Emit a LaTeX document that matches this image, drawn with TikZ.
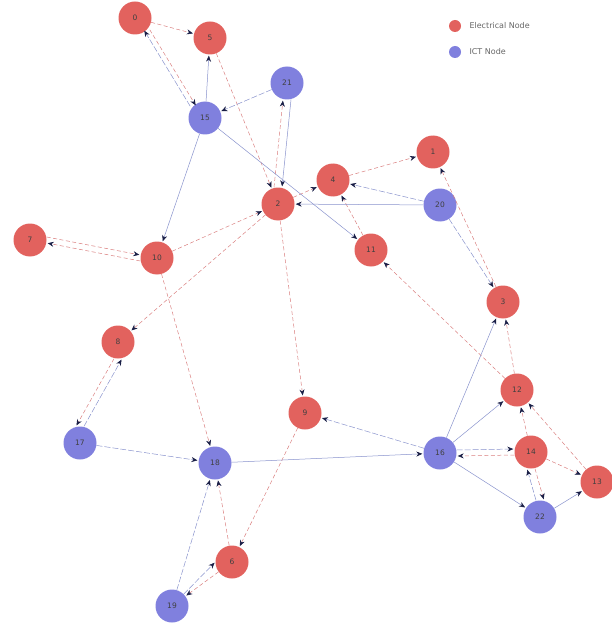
\documentclass[tikz,border=0pt]{standalone}
\usepackage{fontspec}
\setmainfont{DejaVu Sans}
\usetikzlibrary{arrows.meta}
\definecolor{elecfill}{RGB}{226,98,94}
\definecolor{ictfill}{RGB}{128,128,222}
\definecolor{eleclink}{RGB}{218,128,128}
\definecolor{ictlink}{RGB}{136,146,204}
\definecolor{tipcol}{RGB}{25,30,70}
\tikzset{
  x=1pt, y=-1pt,
  basenode/.style={circle, minimum size=33pt, inner sep=0pt, font=\fontsize{7.5}{8}\selectfont, text=black!75},
  elec/.style={basenode, fill=elecfill},
  ict/.style={basenode, fill=ictfill},
  link/.style={line width=0.5pt, shorten >=1pt, -{Stealth[length=6pt,width=5pt,color=tipcol]}},
  elink/.style={link, draw=eleclink, dash pattern=on 4pt off 2.5pt},
  ilink/.style={link, draw=ictlink, dash pattern=on 6pt off 2pt},
  slink/.style={link, draw=ictlink},
  legtext/.style={anchor=west, font=\fontsize{8}{9}\selectfont, text=black!60},
}
\begin{document}
\begin{tikzpicture}
\useasboundingbox (0,0) rectangle (612,631);
% electrical nodes
\node[elec] (n0)  at (135,18)  {0};
\node[elec] (n1)  at (433,152) {1};
\node[elec] (n2)  at (278,204) {2};
\node[elec] (n3)  at (503,302) {3};
\node[elec] (n4)  at (333,180) {4};
\node[elec] (n5)  at (210,38)  {5};
\node[elec] (n6)  at (232,562) {6};
\node[elec] (n7)  at (30,240)  {7};
\node[elec] (n8)  at (118,342) {8};
\node[elec] (n9)  at (305,413) {9};
\node[elec] (n10) at (157,258) {10};
\node[elec] (n11) at (371,250) {11};
\node[elec] (n12) at (517,390) {12};
\node[elec] (n13) at (597,482) {13};
\node[elec] (n14) at (531,452) {14};
% ICT nodes
\node[ict] (n15) at (205,118) {15};
\node[ict] (n16) at (440,453) {16};
\node[ict] (n17) at (80,443)  {17};
\node[ict] (n18) at (215,463) {18};
\node[ict] (n19) at (172,606) {19};
\node[ict] (n20) at (440,205) {20};
\node[ict] (n21) at (287,83)  {21};
\node[ict] (n22) at (540,517) {22};
% electrical links
\draw[elink] (n0) -- (n5);
\draw[elink] ([xshift=3pt]n0.south east) -- ([xshift=3pt]n15.north west);
\draw[elink] (n5) -- (n2);
\draw[elink] ([xshift=-4pt]n2.north) -- ([xshift=-4pt]n21.south);
\draw[elink] (n2) -- (n4);
\draw[elink] (n2) -- (n8);
\draw[elink] (n2) -- (n9);
\draw[elink] (n10) -- (n2);
\draw[elink] ([yshift=-3pt]n10.west) -- ([yshift=-3pt]n7.east);
\draw[elink] ([yshift=3pt]n7.east) -- ([yshift=3pt]n10.west);
\draw[elink] (n10) -- (n18);
\draw[elink] ([xshift=-4pt]n8.south) -- ([xshift=-4pt]n17.north);
\draw[elink] (n4) -- (n1);
\draw[elink] (n11) -- (n4);
\draw[elink] (n9) -- (n6);
\draw[elink] (n6) -- (n18);
\draw[elink] (n6) -- (n19);
\draw[elink] (n3) -- (n1);
\draw[elink] (n12) -- (n3);
\draw[elink] (n12) -- (n11);
\draw[elink] ([yshift=-3pt]n14.west) -- ([yshift=-3pt]n16.east);
\draw[elink] (n14) -- (n12);
\draw[elink] (n13) -- (n12);
\draw[elink] (n14) -- (n13);
\draw[elink] ([xshift=4pt]n14.south) -- ([xshift=4pt]n22.north);
% ICT links
\draw[ilink] ([xshift=-3pt]n15.north west) -- ([xshift=-3pt]n0.south east);
\draw[slink] (n15) -- (n5);
\draw[ilink] (n21) -- (n15);
\draw[slink] ([xshift=4pt]n21.south) -- ([xshift=4pt]n2.north);
\draw[slink] (n15) -- (n11);
\draw[slink] (n15) -- (n10);
\draw[ilink] (n20) -- (n4);
\draw[slink] (n20) -- (n2);
\draw[ilink] (n20) -- (n3);
\draw[ilink] ([xshift=4pt]n17.north) -- ([xshift=4pt]n8.south);
\draw[ilink] (n17) -- (n18);
\draw[slink] (n18) -- (n16);
\draw[ilink] (n16) -- (n9);
\draw[ilink] (n19) -- (n18);
\draw[ilink] (n19) -- (n6.west);
\draw[slink] (n16) -- (n3);
\draw[slink] (n16) -- (n12);
\draw[ilink] ([yshift=3pt]n16.east) -- ([yshift=3pt]n14.west);
\draw[slink] (n16) -- (n22);
\draw[slink] (n22) -- (n13);
\draw[ilink] ([xshift=-4pt]n22.north) -- ([xshift=-4pt]n14.south);
% legend
\node[circle, fill=elecfill, minimum size=12pt, inner sep=0pt] (le) at (455,26) {};
\node[legtext] (lt1) at (466,26) {Electrical Node};
\node[circle, fill=ictfill, minimum size=12pt, inner sep=0pt] (li) at (455,52) {};
\node[legtext] (lt2) at (466,52) {ICT Node};
\end{tikzpicture}
\end{document}
